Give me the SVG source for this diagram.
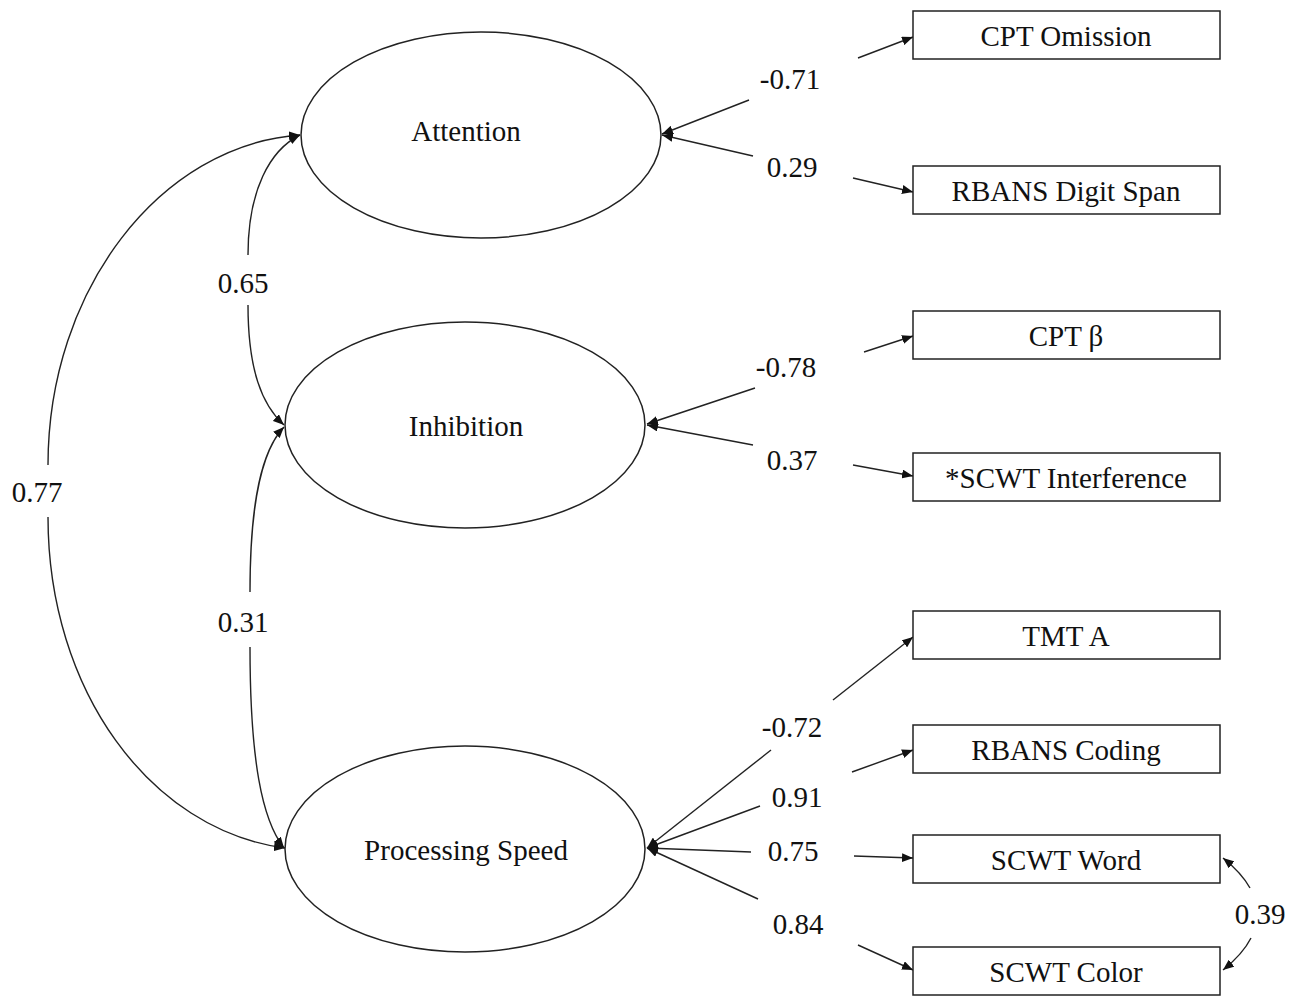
<svg xmlns="http://www.w3.org/2000/svg" width="1291" height="996" viewBox="0 0 1291 996">
<style>
  text { font-family: "Liberation Serif", "Times New Roman", serif; font-size: 29px; fill: #111; }
  .lbl { text-anchor: middle; }
  .node ellipse, .node rect { fill: #fff; stroke: #222; stroke-width: 1.5; }
  .edge { fill: none; stroke: #222; stroke-width: 1.4; marker-end: url(#ah); }
</style>
<defs>
  <marker id="ah" markerUnits="userSpaceOnUse" markerWidth="12" markerHeight="9" refX="11" refY="4.5" orient="auto">
    <path d="M0,0 L11,4.5 L0,9 z" fill="#111"/>
  </marker>
</defs>
<rect width="1291" height="996" fill="#fff"/>

<g id="connectors">
  <!-- Attention indicators -->
  <path class="edge" d="M749,100 L662,134"/>
  <path class="edge" d="M858,58 L913,37"/>
  <path class="edge" d="M753,156 L662,135"/>
  <path class="edge" d="M853,178 L913,192"/>
  <!-- Inhibition indicators -->
  <path class="edge" d="M755,388 L647,424"/>
  <path class="edge" d="M864,352 L913,336"/>
  <path class="edge" d="M753,445 L647,425"/>
  <path class="edge" d="M853,465 L913,476"/>
  <!-- Processing Speed indicators -->
  <path class="edge" d="M771,750 L647,848"/>
  <path class="edge" d="M833,700 L913,637"/>
  <path class="edge" d="M760,806 L647,848"/>
  <path class="edge" d="M852,772 L913,750"/>
  <path class="edge" d="M751,852 L647,848"/>
  <path class="edge" d="M854,856 L913,858"/>
  <path class="edge" d="M758,899 L647,848"/>
  <path class="edge" d="M858,945 L913,970"/>
  <!-- latent covariances -->
  <path class="edge" d="M48,465 C48,290 160,145 300,135"/>
  <path class="edge" d="M48,517 C48,690 150,830 285,848"/>
  <path class="edge" d="M248,255 C248,190 270,150 300,135"/>
  <path class="edge" d="M248,305 C248,370 262,405 284,425"/>
  <path class="edge" d="M250,592 C250,500 262,450 284,427"/>
  <path class="edge" d="M250,647 C250,760 262,820 284,848"/>
  <!-- residual covariance -->
  <path class="edge" d="M1250,888 Q1241.7,873 1223,858"/>
  <path class="edge" d="M1251,938 Q1242.9,954 1223,970"/>

  <text class="lbl" x="790" y="89">-0.71</text>
  <text class="lbl" x="792" y="177">0.29</text>
  <text class="lbl" x="786" y="377">-0.78</text>
  <text class="lbl" x="792" y="470">0.37</text>
  <text class="lbl" x="792" y="737">-0.72</text>
  <text class="lbl" x="797" y="807">0.91</text>
  <text class="lbl" x="793" y="861">0.75</text>
  <text class="lbl" x="798" y="934">0.84</text>
  <text class="lbl" x="1260" y="924">0.39</text>
  <text class="lbl" x="243" y="293">0.65</text>
  <text class="lbl" x="37" y="502">0.77</text>
  <text class="lbl" x="243" y="632">0.31</text>
</g>

<g id="attention" class="node">
  <ellipse cx="481" cy="135" rx="180" ry="103"/>
  <text class="lbl" x="466" y="141">Attention</text>
</g>
<g id="inhibition" class="node">
  <ellipse cx="465" cy="425" rx="180" ry="103"/>
  <text class="lbl" x="466" y="436">Inhibition</text>
</g>
<g id="processing-speed" class="node">
  <ellipse cx="465" cy="849" rx="180" ry="103"/>
  <text class="lbl" x="466" y="860">Processing Speed</text>
</g>

<g id="cpt-omission" class="node">
  <rect x="913" y="11" width="307" height="48"/>
  <text class="lbl" x="1066" y="46">CPT Omission</text>
</g>
<g id="rbans-digit-span" class="node">
  <rect x="913" y="166" width="307" height="48"/>
  <text class="lbl" x="1066" y="201">RBANS Digit Span</text>
</g>
<g id="cpt-beta" class="node">
  <rect x="913" y="311" width="307" height="48"/>
  <text class="lbl" x="1066" y="346">CPT β</text>
</g>
<g id="scwt-interference" class="node">
  <rect x="913" y="453" width="307" height="48"/>
  <text class="lbl" x="1066" y="488">*SCWT Interference</text>
</g>
<g id="tmt-a" class="node">
  <rect x="913" y="611" width="307" height="48"/>
  <text class="lbl" x="1066" y="646">TMT A</text>
</g>
<g id="rbans-coding" class="node">
  <rect x="913" y="725" width="307" height="48"/>
  <text class="lbl" x="1066" y="760">RBANS Coding</text>
</g>
<g id="scwt-word" class="node">
  <rect x="913" y="835" width="307" height="48"/>
  <text class="lbl" x="1066" y="870">SCWT Word</text>
</g>
<g id="scwt-color" class="node">
  <rect x="913" y="947" width="307" height="48"/>
  <text class="lbl" x="1066" y="982">SCWT Color</text>
</g>
</svg>
